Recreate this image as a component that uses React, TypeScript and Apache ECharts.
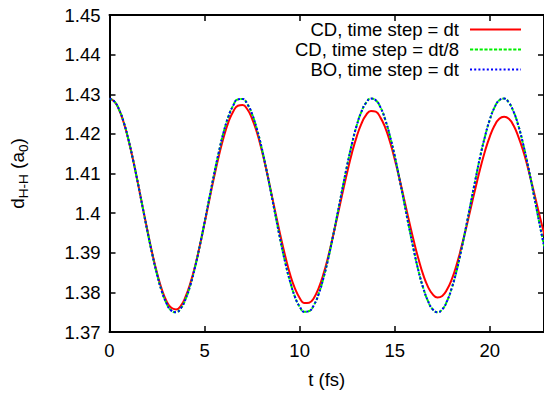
import React, { useEffect, useRef } from "react";
import * as echarts from "echarts";

const timeFs = [
  0, 0.25, 0.5, 0.75, 1, 1.25, 1.5, 1.75, 2, 2.25, 2.5, 2.75, 3, 3.25, 3.5, 3.75, 4, 4.25, 4.5,
  4.75, 5, 5.25, 5.5, 5.75, 6, 6.25, 6.5, 6.75, 7, 7.25, 7.5, 7.75, 8, 8.25, 8.5, 8.75, 9, 9.25,
  9.5, 9.75, 10, 10.25, 10.5, 10.75, 11, 11.25, 11.5, 11.75, 12, 12.25, 12.5, 12.75, 13, 13.25,
  13.5, 13.75, 14, 14.25, 14.5, 14.75, 15, 15.25, 15.5, 15.75, 16, 16.25, 16.5, 16.75, 17, 17.25,
  17.5, 17.75, 18, 18.25, 18.5, 18.75, 19, 19.25, 19.5, 19.75, 20, 20.25, 20.5, 20.75, 21, 21.25,
  21.5, 21.75, 22, 22.25, 22.5, 22.75, 23,
];

const cdDt = [
  1.4289, 1.4282, 1.4261, 1.4228, 1.4184, 1.4132, 1.4074, 1.4014, 1.3955, 1.3898, 1.3849, 1.3808,
  1.3778, 1.3761, 1.3757, 1.3766, 1.3789, 1.3823, 1.3866, 1.3918, 1.3975, 1.4033, 1.4091, 1.4144,
  1.4191, 1.4229, 1.4256, 1.4271, 1.4273, 1.4262, 1.4238, 1.4204, 1.416, 1.4109, 1.4053, 1.3996,
  1.3941, 1.389, 1.3845, 1.381, 1.3786, 1.3773, 1.3774, 1.3786, 1.3811, 1.3846, 1.389, 1.3941,
  1.3995, 1.405, 1.4103, 1.4152, 1.4193, 1.4226, 1.4248, 1.4258, 1.4256, 1.4241, 1.4216, 1.418,
  1.4136, 1.4087, 1.4034, 1.3981, 1.393, 1.3884, 1.3844, 1.3814, 1.3795, 1.3787, 1.3791, 1.3807,
  1.3833, 1.3869, 1.3913, 1.3961, 1.4013, 1.4064, 1.4113, 1.4157, 1.4193, 1.4221, 1.4238, 1.4243,
  1.4238, 1.4221, 1.4193, 1.4158, 1.4115, 1.4067, 1.4017, 1.3968, 1.3921,
];

const cdDt8 = [
  1.4289, 1.4282, 1.4262, 1.4229, 1.4185, 1.4132, 1.4074, 1.4013, 1.3953, 1.3896, 1.3845, 1.3803,
  1.3772, 1.3754, 1.375, 1.376, 1.3783, 1.3818, 1.3864, 1.3918, 1.3977, 1.4038, 1.4098, 1.4154,
  1.4204, 1.4243, 1.4271, 1.4287, 1.4288, 1.4275, 1.425, 1.4212, 1.4165, 1.411, 1.405, 1.3989,
  1.3929, 1.3874, 1.3827, 1.3789, 1.3764, 1.3751, 1.3753, 1.3768, 1.3796, 1.3836, 1.3885, 1.3941,
  1.4001, 1.4062, 1.4121, 1.4175, 1.4221, 1.4256, 1.4279, 1.4289, 1.4285, 1.4267, 1.4236, 1.4194,
  1.4144, 1.4086, 1.4026, 1.3965, 1.3907, 1.3854, 1.3811, 1.3778, 1.3757, 1.375, 1.3757, 1.3778,
  1.3811, 1.3854, 1.3907, 1.3965, 1.4026, 1.4086, 1.4144, 1.4194, 1.4236, 1.4267, 1.4285, 1.4289,
  1.4279, 1.4256, 1.4221, 1.4175, 1.4121, 1.4062, 1.4001, 1.3941, 1.3885,
];

const boDt = [
  1.4289, 1.4282, 1.4262, 1.4229, 1.4185, 1.4132, 1.4074, 1.4013, 1.3953, 1.3896, 1.3845, 1.3803,
  1.3772, 1.3754, 1.375, 1.376, 1.3783, 1.3818, 1.3864, 1.3918, 1.3977, 1.4038, 1.4098, 1.4154,
  1.4204, 1.4243, 1.4271, 1.4287, 1.4288, 1.4275, 1.425, 1.4212, 1.4165, 1.411, 1.405, 1.3989,
  1.3929, 1.3874, 1.3827, 1.3789, 1.3764, 1.3751, 1.3753, 1.3768, 1.3796, 1.3836, 1.3885, 1.3941,
  1.4001, 1.4062, 1.4121, 1.4175, 1.4221, 1.4256, 1.4279, 1.4289, 1.4285, 1.4267, 1.4236, 1.4194,
  1.4144, 1.4086, 1.4026, 1.3965, 1.3907, 1.3854, 1.3811, 1.3778, 1.3757, 1.375, 1.3757, 1.3778,
  1.3811, 1.3854, 1.3907, 1.3965, 1.4026, 1.4086, 1.4144, 1.4194, 1.4236, 1.4267, 1.4285, 1.4289,
  1.4279, 1.4256, 1.4221, 1.4175, 1.4121, 1.4062, 1.4001, 1.3941, 1.3885,
];

const seriesNames = ["CD, time step = dt", "CD, time step = dt/8", "BO, time step = dt"];
const xTicks = [0, 5, 10, 15, 20];
const xRange = [0, 22.85];
const yTicks = [1.37, 1.38, 1.39, 1.4, 1.41, 1.42, 1.43, 1.44, 1.45];

export default function App() {
  const ref = useRef<HTMLDivElement>(null);
  useEffect(() => {
    const chart = echarts.init(ref.current!, null, { renderer: "svg" });
    const font = "Liberation Sans";
    const fs = 18.5;
    const pair = (vals: number[]) => timeFs.map((t, i) => [t, vals[i]]);
    const xInterval = xTicks[1] - xTicks[0];
    const yInterval = 0.01;
    const axisLine = { show: true, onZero: false, lineStyle: { color: "#000", width: 2 } };
    const axisTick = { show: true, inside: true, length: 6, lineStyle: { color: "#000", width: 1.5 } };
    const xBase = {
      type: "value",
      min: xRange[0],
      max: xRange[1],
      interval: xInterval,
      axisLine,
      axisTick,
      splitLine: { show: false },
    };
    const yBase = {
      type: "value",
      min: yTicks[0],
      max: yTicks[yTicks.length - 1],
      interval: yInterval,
      axisLine,
      axisTick,
      splitLine: { show: false },
    };
    const lineSeries = (name: string, vals: number[], color: string, type: any, z: number) => ({
      name,
      type: "line",
      data: pair(vals),
      smooth: true,
      symbol: "none",
      xAxisIndex: 0,
      yAxisIndex: 0,
      lineStyle: { color, width: 2, type },
      itemStyle: { color },
      z,
    });
    chart.setOption({
      animation: false,
      backgroundColor: "#fff",
      textStyle: { fontFamily: font },
      grid: { left: 109.5, top: 15, right: -2, bottom: 60 },
      legend: {
        orient: "vertical",
        align: "right",
        right: 22,
        top: 20,
        padding: 0,
        itemWidth: 51,
        itemHeight: 14,
        itemGap: 1,
        data: seriesNames,
        itemStyle: { opacity: 0 },
        textStyle: { fontFamily: font, fontSize: fs, color: "#000", padding: [0, 6, 0, 0] },
      },
      xAxis: [
        {
          ...xBase,
          position: "bottom",
          name: "t (fs)",
          nameLocation: "middle",
          nameGap: 38,
          nameTextStyle: { fontFamily: font, fontSize: fs, color: "#000" },
          axisLabel: {
            show: true,
            margin: 9,
            fontFamily: font,
            fontSize: fs,
            color: "#000",
            showMaxLabel: false,
            formatter: (v: number) => (xTicks.indexOf(v) >= 0 ? String(v) : ""),
          },
        },
        { ...xBase, position: "top", axisLabel: { show: false } },
      ],
      yAxis: [
        {
          ...yBase,
          position: "left",
          name: "{m|d}{s|H-H}{m| (a}{s|0}{m|)}",
          nameLocation: "middle",
          nameGap: 79,
          nameTextStyle: {
            fontFamily: font,
            color: "#000",
            rich: {
              m: { fontFamily: font, fontSize: 19, color: "#000", lineHeight: 26, verticalAlign: "middle" },
              s: { fontFamily: font, fontSize: 13.5, color: "#000", lineHeight: 14, verticalAlign: "bottom" },
            },
          },
          axisLabel: {
            show: true,
            margin: 9,
            fontFamily: font,
            fontSize: fs,
            color: "#000",
            formatter: (v: number) => String(+v.toFixed(2)),
          },
        },
        { ...yBase, position: "right", axisLabel: { show: false } },
      ],
      series: [
        lineSeries(seriesNames[0], cdDt, "#ff0000", "solid", 2),
        lineSeries(seriesNames[1], cdDt8, "#00ee00", [3.2, 1.6], 3),
        lineSeries(seriesNames[2], boDt, "#0000ff", [2, 2.2], 4),
      ],
    });
    return () => chart.dispose();
  }, []);
  return (
    <div
      ref={ref}
      style={{ position: "absolute", left: 0, top: 0, width: 544, height: 394 }}
    />
  );
}
